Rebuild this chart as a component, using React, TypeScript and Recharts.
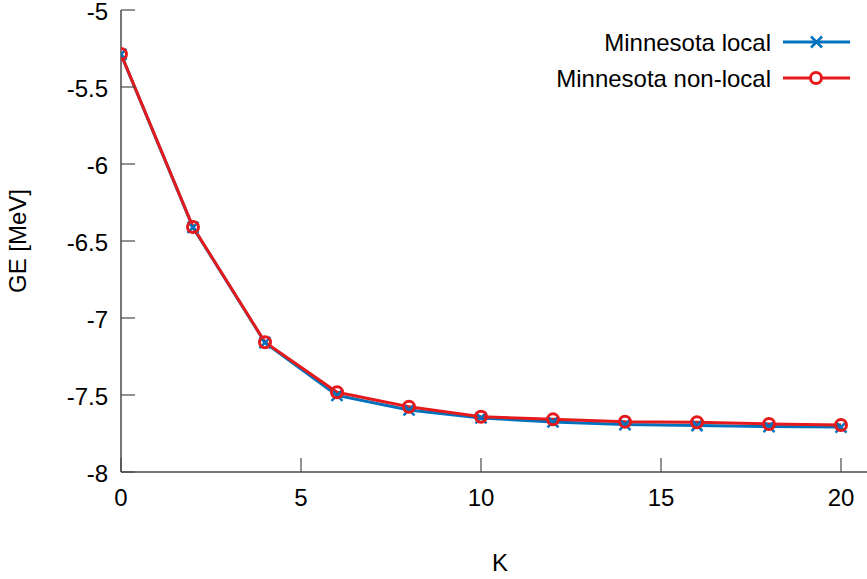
import React from 'react';
import { LineChart, Line, XAxis, YAxis } from 'recharts';

const kValues = [0, 2, 4, 6, 8, 10, 12, 14, 16, 18, 20];
const localGE = [-5.288, -6.412, -7.160, -7.503, -7.597, -7.649, -7.675, -7.692, -7.698, -7.705, -7.708];
const nonLocalGE = [-5.286, -6.409, -7.157, -7.482, -7.576, -7.641, -7.658, -7.673, -7.677, -7.688, -7.695];
const xTicks = [0, 5, 10, 15, 20];
const yTicks = [-8, -7.5, -7, -6.5, -6, -5.5, -5];
const seriesNames = ['Minnesota local', 'Minnesota non-local'];

const data = kValues.map((k, i) => ({ k, local: localGE[i], nonlocal: nonLocalGE[i] }));

const BLUE = '#0072bd';
const RED = '#e41a1c';
const AXIS = '#4a4a4a';
const FONT = '"Liberation Sans", Arial, sans-serif';
const FS = 24;
const TICK = 14;

const LeftTick = (p: any) => (
  <g>
    <line x1={p.x} y1={p.y} x2={p.x + TICK} y2={p.y} stroke={AXIS} strokeWidth={1.2} />
    <text x={p.x - 13} y={p.y + 10} textAnchor="end" fontFamily={FONT} fontSize={FS} fill="#000">
      {p.payload.value}
    </text>
  </g>
);
const RightTick = (p: any) => (
  <line x1={p.x} y1={p.y} x2={p.x - TICK} y2={p.y} stroke={AXIS} strokeWidth={1.2} />
);
const BottomTick = (p: any) => (
  <g>
    <line x1={p.x} y1={p.y} x2={p.x} y2={p.y - TICK} stroke={AXIS} strokeWidth={1.2} />
    <text x={p.x} y={p.y + 34} textAnchor="middle" fontFamily={FONT} fontSize={FS} fill="#000">
      {p.payload.value}
    </text>
  </g>
);
const TopTick = (p: any) => (
  <line x1={p.x} y1={p.y} x2={p.x} y2={p.y + TICK} stroke={AXIS} strokeWidth={1.2} />
);

const XDot = (p: any) => {
  const { cx, cy } = p;
  if (cx == null || cy == null) return null;
  const s = 5.5;
  return (
    <path
      d={`M${cx - s},${cy - s}L${cx + s},${cy + s}M${cx - s},${cy + s}L${cx + s},${cy - s}`}
      stroke={BLUE}
      strokeWidth={2.5}
      fill="none"
    />
  );
};

const LegendBox = () => (
  <svg width={330} height={90} style={{ position: 'absolute', left: 537, top: 20 }}>
    <g>
      <text x={234} y={31} textAnchor="end" fontFamily={FONT} fontSize={FS} fill="#000">{seriesNames[0]}</text>
      <line x1={246} y1={22} x2={313} y2={22} stroke={BLUE} strokeWidth={3} />
      <path d={`M${274},${16.5}L${285},${27.5}M${274},${27.5}L${285},${16.5}`} stroke={BLUE} strokeWidth={2.5} />
    </g>
    <g>
      <text x={234} y={67} textAnchor="end" fontFamily={FONT} fontSize={FS} fill="#000">{seriesNames[1]}</text>
      <line x1={246} y1={58} x2={313} y2={58} stroke={RED} strokeWidth={3} />
      <circle cx={279} cy={58} r={5.5} fill="#fff" stroke={RED} strokeWidth={3} />
    </g>
  </svg>
);

export default function App() {
  return (
    <div style={{ position: 'fixed', left: 0, top: 0, width: 867, height: 579, overflow: 'hidden', background: '#fff' }}>
      <LineChart
        width={880}
        height={579}
        data={data}
        margin={{ top: 10, right: 3, bottom: 77, left: 61 }}
      >
        <XAxis
          dataKey="k"
          type="number"
          domain={[0, 21]}
          ticks={xTicks}
          allowDataOverflow
          tickLine={false}
          tickSize={0}
          tickMargin={0}
          tick={<BottomTick />}
          axisLine={{ stroke: AXIS, strokeWidth: 1.5 }}
          height={30}
          label={{
            content: () => (
              <text x={500} y={571} textAnchor="middle" fontFamily={FONT} fontSize={FS} fill="#000">K</text>
            ),
          }}
        />
        <XAxis
          xAxisId="top"
          orientation="top"
          dataKey="k"
          type="number"
          domain={[0, 21]}
          ticks={xTicks}
          allowDataOverflow
          tickLine={false}
          tickSize={0}
          tickMargin={0}
          tick={<TopTick />}
          axisLine={{ stroke: AXIS, strokeWidth: 1.5 }}
          height={0}
        />
        <YAxis
          type="number"
          domain={[-8, -5]}
          ticks={yTicks}
          allowDataOverflow
          tickLine={false}
          tickSize={0}
          tickMargin={0}
          tick={<LeftTick />}
          axisLine={{ stroke: AXIS, strokeWidth: 1.5 }}
          width={60}
          label={{
            content: () => (
              <text
                x={26}
                y={241}
                textAnchor="middle"
                transform="rotate(-90 26 241)"
                fontFamily={FONT}
                fontSize={FS}
                fill="#000"
              >
                GE [MeV]
              </text>
            ),
          }}
        />
        <YAxis
          yAxisId="right"
          orientation="right"
          type="number"
          domain={[-8, -5]}
          ticks={yTicks}
          allowDataOverflow
          tickLine={false}
          tickSize={0}
          tickMargin={0}
          tick={<RightTick />}
          axisLine={{ stroke: AXIS, strokeWidth: 1.5 }}
          width={0}
        />
        <Line
          type="linear"
          dataKey="local"
          name={seriesNames[0]}
          stroke={BLUE}
          strokeWidth={3}
          dot={<XDot />}
          activeDot={false}
          isAnimationActive={false}
        />
        <Line
          type="linear"
          dataKey="nonlocal"
          name={seriesNames[1]}
          stroke={RED}
          strokeWidth={3}
          dot={{ r: 5.5, fill: 'none', stroke: RED, strokeWidth: 3 }}
          activeDot={false}
          isAnimationActive={false}
        />
      </LineChart>
      <LegendBox />
    </div>
  );
}
